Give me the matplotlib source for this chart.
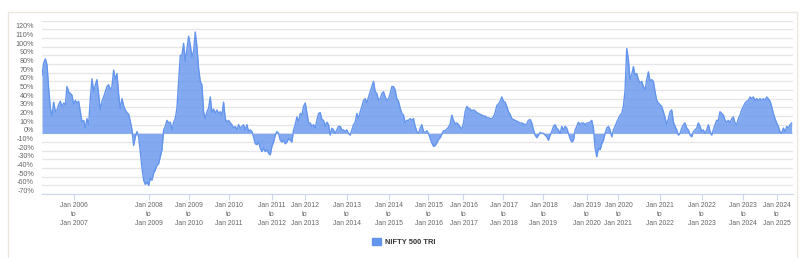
import numpy as np
import matplotlib
matplotlib.use("Agg")
import matplotlib.pyplot as plt
from matplotlib.patches import Patch, Rectangle
from matplotlib.transforms import ScaledTranslation

plt.rcParams['font.family'] = ['Liberation Sans', 'DejaVu Sans']

# 1-year rolling returns (%) of NIFTY 500 TRI, in order
returns_2005_2008 = [
    67, 81, 86, 79, 52, 29, 20, 36, 25, 27, 33, 37, 31, 35, 33, 54, 48, 46, 44, 33,
    38, 35, 37, 25, 13, 15, 6, 17, 10, 40, 63, 48, 56, 62, 44, 27, 37, 42, 48, 54,
    56, 50, 54, 73, 62, 69, 45, 28, 40, 32, 27, 24, 22, 14, 4, -14, -4, 2, -4, -21,
    -40, -54, -59, -56, -60, -52, -54, -46, -42, -37, -35, -27, -19, 4,
]
returns_2008_2011 = [
    8, 15, 12, 13, 4, 13, 17, 29, 60, 90, 90, 104, 83, 98, 112, 102, 88, 95, 117, 100,
    75, 60, 56, 25, 17, 25, 29, 42, 24, 28, 23, 27, 23, 25, 21, 36, 17, 13, 15, 12,
    10, 6, 8, 4, 10, 6, 8, 10, 4, 10, 2, 4, 2, -4, -12, -13, -10, -17, -21, -17,
    -21, -19, -23, -25, -15, -10, -2, 2, 0, -8, -10, -8, -12, -10, -6,
]
returns_2011_2014 = [
    -8, -10, 4, 10, 19, 13, 23, 21, 31, 35, 24, 12, 12, 8, 10, 6, 15, 23, 24, 16,
    15, 8, 13, 10, -2, 6, 4, 0, 4, 8, 8, 4, 4, 2, 4, 0, -2, 4, 10, 13,
    23, 17, 25, 31, 38, 40, 35, 42, 48, 54, 60, 48, 46, 38, 40, 46, 48, 42, 38, 40,
    46, 54, 54, 50, 40, 37, 29, 23, 21, 12, 15, 15, 17, 15, 17,
]
returns_2014_2018 = [
    8, 2, 0, 6, 10, 2, 1, 3, 0, -6, -11, -15, -14, -11, -7, -5, -1, 3, 3, 5,
    7, 11, 21, 15, 11, 12, 10, 7, 5, 12, 25, 31, 29, 28, 26, 27, 26, 24, 23, 22,
    21, 20, 20, 18, 18, 17, 17, 19, 24, 32, 34, 37, 42, 37, 36, 31, 25, 22, 17, 16,
    15, 14, 13, 12, 12, 11, 10, 11, 15, 16, 12, 4, -2, -5, -2,
]
returns_2018_2021 = [
    1, 0, 0, -2, -4, -8, -2, 2, 8, 10, 6, 4, 0, 8, 4, 8, 6, 0, -6, -10,
    -8, 4, 8, 13, 10, 12, 12, 10, 12, 12, 13, 15, 6, -17, -27, -17, -19, -12, -8, 0,
    6, 8, 4, -4, 4, 8, 13, 17, 21, 23, 31, 50, 98, 85, 62, 68, 77, 67, 69, 62,
    58, 60, 54, 50, 62, 71, 60, 62, 60, 48, 38, 35, 33, 31, 25,
]
returns_2021_2025 = [
    18, 10, 17, 25, 27, 13, 8, 4, -2, 0, 6, 10, 12, 6, 4, -2, -4, 2, 4, 6,
    12, 8, 2, 4, 0, 4, 10, 2, -2, 4, 10, 15, 15, 25, 23, 21, 15, 13, 15, 12,
    17, 19, 12, 10, 17, 21, 27, 31, 35, 37, 38, 42, 40, 42, 38, 40, 38, 40, 38, 40,
    38, 42, 40, 37, 31, 23, 17, 12, 8, 2, 0, 6, 2, 8, 6, 10, 12,
]

start_years = [2006, 2008, 2009, 2010, 2011, 2012, 2013, 2014, 2015,
               2016, 2017, 2018, 2019, 2020, 2021, 2022, 2023, 2024]
tick_index = [19, 64, 88, 112, 138, 158, 183, 208, 232,
              253, 277, 301, 327, 346, 371, 396, 421, 441]
tick_labels = [f"Jan {y}\nto\nJan {y + 1}" for y in start_years]

y_ticks = list(range(-70, 131, 10))

values = np.array(returns_2005_2008 + returns_2008_2011 + returns_2011_2014
                  + returns_2014_2018 + returns_2018_2021 + returns_2021_2025)
x = np.arange(len(values))

W, H = 809, 258
fig = plt.figure(figsize=(W / 100, H / 100), dpi=100)
fig.patches.append(Rectangle((8 / W, -0.1), (797 - 8) / W, 1 - 12 / H + 0.1,
                             transform=fig.transFigure, fill=False,
                             ec='#ece7de', lw=1))

ax = fig.add_axes([42 / W, 1 - 194 / H, (793 - 42) / W, (194 - 20.7) / H])
blue = '#6495ED'
ax.fill_between(x, 0, values, color=blue, alpha=0.8, lw=0, zorder=2)
ax.plot(x, values, color=blue, lw=1, zorder=3)

ax.set_xlim(0, len(values) - 0.2)
ax.set_ylim(-70, 130)
ax.set_yticks(y_ticks)
ax.set_yticklabels([f"{v}%" if v < 130 else "" for v in y_ticks])
ax.set_xticks(tick_index)
ax.set_xticklabels(tick_labels, linespacing=1.4)

ax.grid(axis='y', color='#e6e6e6', lw=1)
ax.set_axisbelow(True)
for s in ['top', 'left', 'right']:
    ax.spines[s].set_visible(False)
ax.spines['bottom'].set_color('#ccd6eb')
ax.spines['bottom'].set_zorder(4)

ax.tick_params(axis='y', length=0, pad=5.8, labelsize=5.2, labelcolor='#666666')
ax.tick_params(axis='x', length=4, color='#ccd6eb', pad=2,
               labelsize=4.9, labelcolor='#666666')
shift = ScaledTranslation(0, 3.5 / 100, fig.dpi_scale_trans)
for lbl in ax.get_yticklabels():
    lbl.set_transform(lbl.get_transform() + shift)

fig.legend(handles=[Patch(color=blue, label='NIFTY 500 TRI')],
           loc='center', bbox_to_anchor=(403.5 / W, 1 - 242 / H),
           frameon=False, handlelength=1.2, handleheight=1.05,
           handletextpad=0.5, borderpad=0,
           prop={'size': 5.4, 'weight': 'bold'}, labelcolor='#333333')

fig.savefig('out.png', dpi=100)
